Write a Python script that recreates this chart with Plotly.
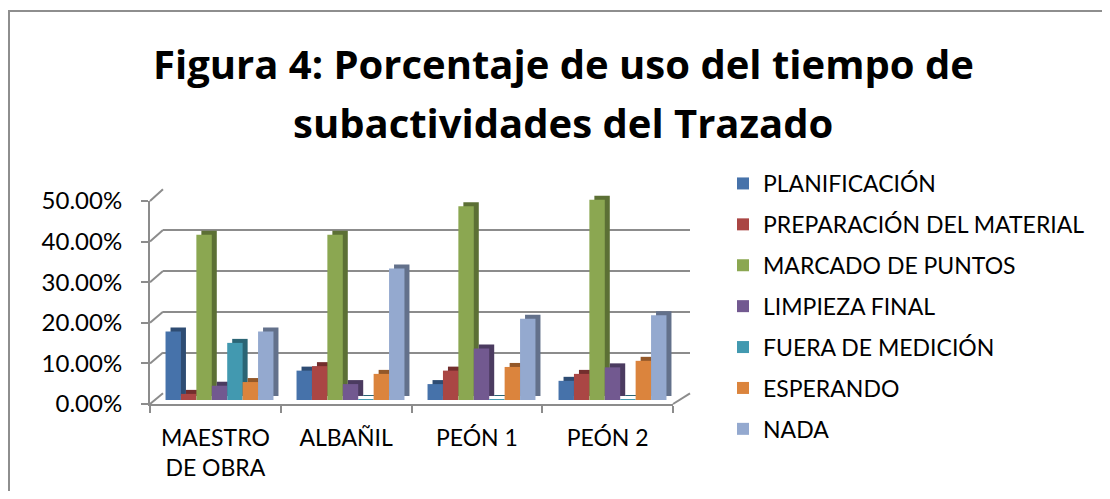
import plotly.graph_objects as go

categories = ["MAESTRO<br>DE OBRA", "ALBAÑIL", "PEÓN 1", "PEÓN 2"]
series_names = ["PLANIFICACIÓN", "PREPARACIÓN DEL MATERIAL", "MARCADO DE PUNTOS",
                "LIMPIEZA FINAL", "FUERA DE MEDICIÓN", "ESPERANDO", "NADA"]
planificacion = [0.168, 0.072, 0.039, 0.047]
preparacion = [0.015, 0.083, 0.072, 0.064]
marcado = [0.405, 0.405, 0.475, 0.491]
limpieza = [0.035, 0.039, 0.126, 0.080]
fuera = [0.140, 0.002, 0.002, 0.002]
esperando = [0.044, 0.064, 0.081, 0.096]
nada = [0.168, 0.322, 0.199, 0.208]
y_ticks = [0, 0.1, 0.2, 0.3, 0.4, 0.5]
title_lines = ["Figura 4: Porcentaje de uso del tiempo de", "subactividades del Trazado"]

values = [planificacion, preparacion, marcado, limpieza, fuera, esperando, nada]
colors = ["#4672AA", "#AA4644", "#8BA751", "#725990", "#4299B0", "#DB843D", "#94A9CF"]
dark = ["#2E4C73", "#732E2D", "#5C7035", "#4B3B60", "#2B6575", "#935829", "#63718B"]

# the page body has an 8px margin; the figure is sized to fit inside the window
OFF = 8
W, H = 1110 - 2 * OFF, 499 - 2 * OFF
GRID = "#8C8C8C"
FONT = "Lato"


def px(x):
    return (x - OFF) / W


def py(y):
    return 1 - (y - OFF) / H


def ydom(y0px, y50px):
    return [py(y0px), py(y50px)]


fig = go.Figure()

# subplot 1: back wall gridlines
fig.add_trace(go.Scatter(x=[0], y=[0.25], mode="markers", marker=dict(opacity=0),
                         hoverinfo="skip", showlegend=False, xaxis="x", yaxis="y"))
# subplot 2: bar depth (side/top faces)
for name, vals, c in zip(series_names, values, dark):
    fig.add_trace(go.Bar(x=categories, y=vals, name=name, marker=dict(color=c, line=dict(width=0)),
                         showlegend=False, hoverinfo="skip", xaxis="x2", yaxis="y2"))
# subplot 3: bar front faces
for name, vals, c in zip(series_names, values, colors):
    fig.add_trace(go.Bar(x=categories, y=vals, name=name, marker=dict(color=c, line=dict(width=0)),
                         legendgroup=name, xaxis="x3", yaxis="y3"))
# subplot 4: front axes with labels
fig.add_trace(go.Scatter(x=categories, y=[None] * len(categories), mode="markers",
                         hoverinfo="skip", showlegend=False, xaxis="x4", yaxis="y4"))

hidden = dict(showgrid=False, zeroline=False, showline=False, showticklabels=False,
              ticks="", automargin=False)
cat_range = [-0.5, len(categories) - 0.5]

fig.update_layout(
    template="none",
    width=W, height=H,
    margin=dict(l=0, r=0, t=0, b=0, pad=0, autoexpand=False),
    paper_bgcolor="white",
    plot_bgcolor="rgba(0,0,0,0)",
    barmode="group",
    bargap=0.176,
    bargroupgap=0,
    font=dict(family=FONT, color="black"),
    xaxis=dict(domain=[px(163), px(690)], range=[0, 1], **hidden),
    yaxis=dict(domain=ydom(393.3, 189.3), range=[0, 0.5], showgrid=True, gridcolor=GRID,
               gridwidth=2, zeroline=False, showline=False, showticklabels=False,
               tickvals=y_ticks, ticks="", automargin=False),
    xaxis2=dict(domain=[px(159), px(683)], anchor="y2", range=cat_range, **hidden),
    yaxis2=dict(domain=ydom(396, 192), range=[0, 0.5], anchor="x2", **hidden),
    xaxis3=dict(domain=[px(154), px(678)], anchor="y3", range=cat_range, **hidden),
    yaxis3=dict(domain=ydom(400, 196), range=[0, 0.5], anchor="x3", **hidden),
    xaxis4=dict(domain=[px(150), px(673)], anchor="y4", range=cat_range, showgrid=False,
                zeroline=False, showline=True, linecolor=GRID, linewidth=2, ticks="outside",
                tickson="boundaries", ticklen=7, tickcolor=GRID, tickwidth=2,
                automargin=False, ticklabelstandoff=12,
                tickfont=dict(family=FONT, size=23, color="black")),
    yaxis4=dict(domain=ydom(404, 201), range=[0, 0.5], anchor="x4", showgrid=False,
                zeroline=False, showline=True, linecolor=GRID, linewidth=2,
                ticks="outside", ticklen=7, tickcolor=GRID, tickwidth=2,
                tickvals=y_ticks, tickformat=".2%", ticklabelstandoff=14,
                automargin=False,
                tickfont=dict(family=FONT, size=24, color="black")),
    legend=dict(x=px(723), xanchor="left", y=py(162), yanchor="top",
                font=dict(family=FONT, size=23, color="black"),
                tracegroupgap=8, bgcolor="rgba(0,0,0,0)", borderwidth=0,
                itemclick=False),
    annotations=[
        dict(text="<b>%s</b>" % title_lines[0], xref="paper", yref="paper",
             x=px(563), y=py(64), xanchor="center", yanchor="middle", showarrow=False,
             font=dict(family="Open Sans", size=40, color="black")),
        dict(text="<b>%s</b>" % title_lines[1], xref="paper", yref="paper",
             x=px(563), y=py(122), xanchor="center", yanchor="middle", showarrow=False,
             font=dict(family="Open Sans", size=40, color="black")),
    ],
)

shapes = []
for v in y_ticks:
    shapes.append(dict(type="line", xref="paper", yref="paper",
                       x0=px(150), y0=py(404 - 406 * v), x1=px(163), y1=py(393.3 - 408 * v),
                       line=dict(color=GRID, width=2)))
shapes.append(dict(type="line", xref="paper", yref="paper",
                   x0=px(673), y0=py(404), x1=px(690), y1=py(393.3),
                   line=dict(color=GRID, width=2)))
# outer chart border (only its top and left edges fall inside the picture)
shapes.append(dict(type="rect", xref="paper", yref="paper",
                   x0=px(9), y0=-0.05, x1=1.05, y1=py(11),
                   line=dict(color="#8E8E8E", width=2), layer="below"))
fig.update_layout(shapes=shapes)

fig.write_html("out.html")
